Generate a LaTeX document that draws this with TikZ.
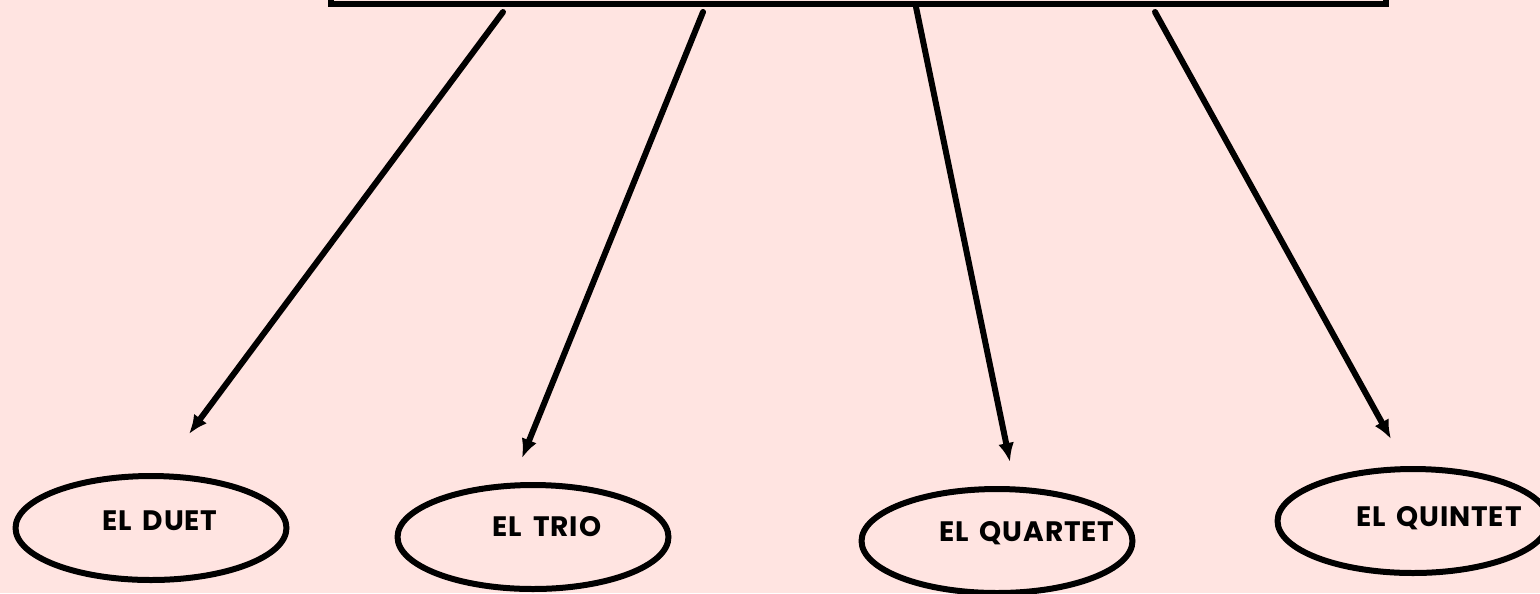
\documentclass[tikz,border=0pt]{standalone}
\usepackage{fontspec}
\setmainfont{Poppins}[LetterSpace=3, WordSpace=1.6]
\usepackage{xcolor}
\usetikzlibrary{arrows.meta, positioning, shapes.geometric}
\definecolor{bgpink}{RGB}{255,228,225}
\tikzset{
    group/.style={draw, ellipse, line width=0.12cm, minimum width=5.42cm, minimum height=2.08cm}, % the four ellipses
    arrow/.style={line width=0.12cm, line cap=round, -{Latex[length=0.38cm, width=0.32cm]}}, % connectors
}

\begin{document}
\begin{tikzpicture}[x=0.02cm, y=-0.02cm, font=\bfseries\fontsize{16}{18}\selectfont]
                \fill[bgpink] (0,0) rectangle (1540,593);
                \useasboundingbox (0,0) rectangle (1540,593);

                % Riquadro in alto
                \node[draw, line width=0.13cm, minimum width=21.1cm, minimum height=2cm, anchor=south] (box) at (858.5,7) {};

                % Gruppi
                \node[group, label={[xshift=0.18cm, yshift=0.14cm]center:EL DUET}] (duet) at (151,528) {};
                \node[group, label={[xshift=0.28cm, yshift=0.2cm]center:EL TRIO}] (trio) at (533,537) {};
                \node[group, label={[xshift=0.6cm, yshift=0.16cm]center:EL QUARTET}] (quartet) at (997,541) {};
                \node[group, label={[xshift=0.52cm, yshift=0.06cm]center:EL QUINTET}] (quintet) at (1413,521) {};

                % Punti
                \coordinate (s1) at (503,12);
                \coordinate (s2) at (703,12);
                \coordinate (s3) at (916,7);
                \coordinate (s4) at (1155,12);
                \coordinate (t1) at (189,434);
                \coordinate (t2) at (522,458);
                \coordinate (t3) at (1010,462);
                \coordinate (t4) at (1391,439);

                % Frecce
                \draw[arrow] (s1) -- (t1);
                \draw[arrow] (s2) -- (t2);
                \draw[arrow] (s3) -- (t3);
                \draw[arrow] (s4) -- (t4);
\end{tikzpicture}
\end{document}
